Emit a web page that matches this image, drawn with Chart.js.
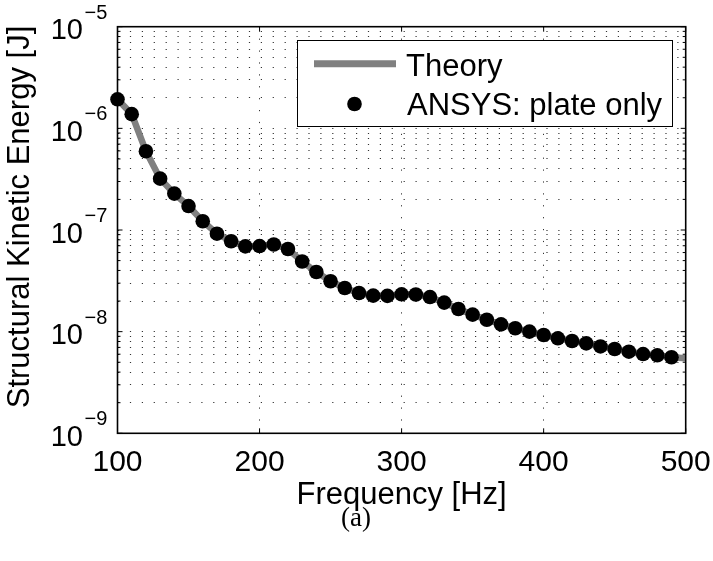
<!DOCTYPE html>
<html>
<head>
<meta charset="utf-8">
<title>Structural Kinetic Energy</title>
<script src="https://cdn.jsdelivr.net/npm/chart.js@4/dist/chart.umd.min.js"></script>
<style>
  html, body { margin: 0; padding: 0; background: #fff; }
  #wrap { width: 713px; height: 561px; }
</style>
</head>
<body>
<div id="wrap"><canvas id="chart" width="713" height="561"></canvas></div>
<script>
// ANSYS: plate only (markers), every 10 Hz
const freq = [100, 110, 120, 130, 140, 150, 160, 170, 180, 190,
              200, 210, 220, 230, 240, 250, 260, 270, 280, 290,
              300, 310, 320, 330, 340, 350, 360, 370, 380, 390,
              400, 410, 420, 430, 440, 450, 460, 470, 480, 490];
const ansysEnergy = [1.93e-6, 1.38e-6, 5.95e-7, 3.2e-7, 2.28e-7, 1.72e-7, 1.22e-7, 9.2e-8, 7.75e-8, 6.9e-8,
                     6.95e-8, 7.2e-8, 6.5e-8, 4.9e-8, 3.86e-8, 3.13e-8, 2.69e-8, 2.4e-8, 2.26e-8, 2.25e-8,
                     2.33e-8, 2.32e-8, 2.19e-8, 1.93e-8, 1.67e-8, 1.47e-8, 1.31e-8, 1.18e-8, 1.08e-8, 1.0e-8,
                     9.27e-9, 8.6e-9, 8.09e-9, 7.67e-9, 7.15e-9, 6.75e-9, 6.35e-9, 6.02e-9, 5.85e-9, 5.6e-9];

// Theory (grey line)
const theoryFreq = [100, 110, 120, 130, 140, 150, 160, 170, 180, 190,
                    200, 210, 220, 230, 240, 250, 260, 270, 280, 290,
                    300, 310, 320, 330, 340, 350, 360, 370, 380, 390,
                    400, 410, 420, 430, 440, 450, 460, 470, 480, 490, 500];
const theoryEnergy = [1.93e-6, 1.38e-6, 5.95e-7, 3.2e-7, 2.28e-7, 1.72e-7, 1.22e-7, 9.2e-8, 7.75e-8, 6.9e-8,
                      6.95e-8, 7.2e-8, 6.5e-8, 4.9e-8, 3.86e-8, 3.13e-8, 2.69e-8, 2.4e-8, 2.26e-8, 2.25e-8,
                      2.33e-8, 2.32e-8, 2.19e-8, 1.93e-8, 1.67e-8, 1.47e-8, 1.31e-8, 1.18e-8, 1.08e-8, 1.0e-8,
                      9.27e-9, 8.6e-9, 8.09e-9, 7.67e-9, 7.15e-9, 6.75e-9, 6.35e-9, 6.02e-9, 5.85e-9, 5.6e-9, 5.47e-9];

const xTicks = [100, 200, 300, 400, 500];
const yExponents = [-9, -8, -7, -6, -5];
const legendLabels = ['Theory', 'ANSYS: plate only'];

const FONT = '"Liberation Sans", Arial, Helvetica, sans-serif';

// grid / tick positions on the log axis: 1..9 x each decade
const yGridValues = [];
yExponents.forEach((e, i) => {
    const last = i === yExponents.length - 1;
    for (let m = 1; m <= (last ? 1 : 9); m++) {
        yGridValues.push({ value: Number((m + 'e' + e)), major: m === 1 });
    }
});

const line = (ctx, x1, y1, x2, y2) => {
    ctx.beginPath();
    ctx.moveTo(x1, y1);
    ctx.lineTo(x2, y2);
    ctx.stroke();
};

// axes box, inward ticks, tick labels, titles and legend (MATLAB style)
const decorPlugin = {
    id: 'decor',
    afterDraw(chart) {
        const { ctx, chartArea: a, scales: { x, y } } = chart;
        ctx.save();
        ctx.strokeStyle = '#000';
        ctx.fillStyle = '#000';
        ctx.lineWidth = 1;

        xTicks.forEach(v => {
            const px = x.getPixelForValue(v);
            line(ctx, px, a.bottom, px, a.bottom - 5);
            line(ctx, px, a.top, px, a.top + 5);
        });
        yGridValues.forEach(t => {
            const py = y.getPixelForValue(t.value);
            const len = t.major ? 5 : 3;
            line(ctx, a.left, py, a.left + len, py);
            line(ctx, a.right, py, a.right - len, py);
        });

        ctx.lineWidth = 1.6;
        ctx.strokeRect(a.left, a.top, a.right - a.left, a.bottom - a.top);

        // x tick labels
        ctx.font = '30px ' + FONT;
        ctx.textAlign = 'center';
        ctx.textBaseline = 'alphabetic';
        xTicks.forEach(v => {
            ctx.fillText(String(v), x.getPixelForValue(v), 471);
        });

        // y tick labels 10^e
        yExponents.forEach(e => {
            const py = y.getPixelForValue(Number('1e' + e));
            ctx.font = '29px ' + FONT;
            ctx.textAlign = 'right';
            ctx.fillText('10', 83, py + 12.5);
            ctx.font = '20px ' + FONT;
            ctx.textAlign = 'left';
            ctx.fillText('\u2212' + Math.abs(e), 84.5, py - 8);
        });

        // axis titles
        ctx.font = '31px ' + FONT;
        ctx.textAlign = 'center';
        ctx.fillText('Frequency [Hz]', (a.left + a.right) / 2, 504);
        ctx.save();
        ctx.translate(29, 217);
        ctx.rotate(-Math.PI / 2);
        ctx.fillText('Structural Kinetic Energy [J]', 0, 0);
        ctx.restore();

        ctx.font = '27px "Liberation Serif", "DejaVu Serif", serif';
        ctx.fillText('(a)', 356, 526);

        // legend
        const bx = 297.5, by = 40.5, bw = 375, bh = 86;
        ctx.fillStyle = '#fff';
        ctx.fillRect(bx, by, bw, bh);
        ctx.lineWidth = 1;
        ctx.strokeStyle = '#000';
        ctx.strokeRect(bx, by, bw, bh);
        ctx.strokeStyle = '#808080';
        ctx.lineWidth = 7;
        line(ctx, 314, 63.7, 396, 63.7);
        ctx.fillStyle = '#000';
        ctx.beginPath();
        ctx.arc(354.5, 104, 7.3, 0, Math.PI * 2);
        ctx.fill();
        ctx.font = '31px ' + FONT;
        ctx.textAlign = 'left';
        ctx.fillText(legendLabels[0], 406, 75.5);
        ctx.fillText(legendLabels[1], 407, 115);

        ctx.restore();
    }
};

new Chart(document.getElementById('chart'), {
    type: 'scatter',
    data: {
        datasets: [{
            label: legendLabels[1],
            data: freq.map((f, i) => ({ x: f, y: ansysEnergy[i] })),
            showLine: false,
            pointRadius: 7.3,
            pointBorderWidth: 0,
            pointBackgroundColor: '#000',
            clip: false,
            order: 0
        }, {
            label: legendLabels[0],
            data: theoryFreq.map((f, i) => ({ x: f, y: theoryEnergy[i] })),
            showLine: true,
            borderColor: '#808080',
            borderWidth: 6.5,
            pointRadius: 0,
            tension: 0,
            order: 1
        }]
    },
    options: {
        responsive: false,
        animation: false,
        events: [],
        layout: {
            padding: { left: 117.5, right: 27.3, top: 26.7, bottom: 127.7 }
        },
        plugins: {
            legend: { display: false },
            tooltip: { enabled: false }
        },
        scales: {
            x: {
                type: 'linear',
                min: 100,
                max: 500,
                afterBuildTicks: scale => { scale.ticks = xTicks.map(v => ({ value: v })); },
                ticks: { display: false },
                grid: { color: '#333', lineWidth: 1, drawTicks: false },
                border: { display: false, dash: [1.2, 10.7] }
            },
            y: {
                type: 'logarithmic',
                min: 1e-9,
                max: 1e-5,
                afterBuildTicks: scale => { scale.ticks = yGridValues.map(t => ({ value: t.value, major: t.major })); },
                ticks: { display: false },
                grid: { color: '#333', lineWidth: 1, drawTicks: false },
                border: { display: false, dash: [1.2, 10.7] }
            }
        }
    },
    plugins: [decorPlugin]
});
</script>
</body>
</html>
